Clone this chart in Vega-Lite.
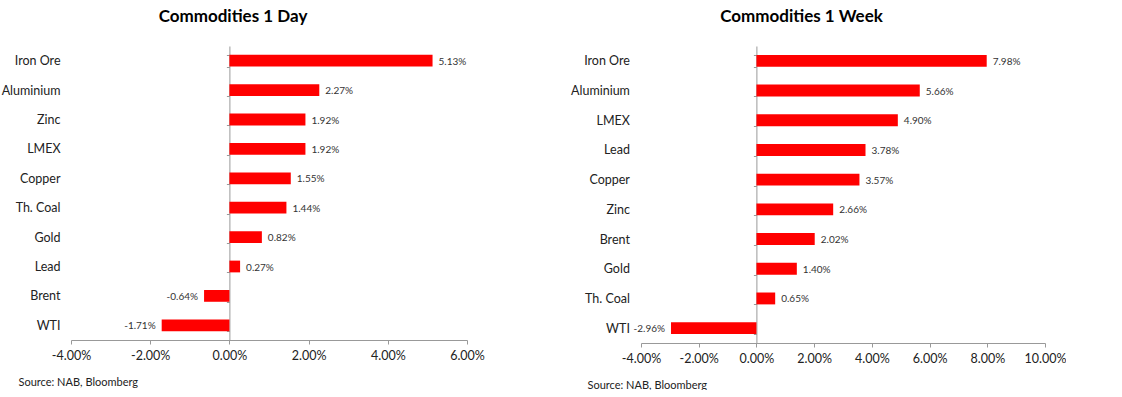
{
  "$schema": "https://vega.github.io/schema/vega-lite/v6.json",
  "background": "white",
  "padding": {"left": 1, "top": 8, "right": 0, "bottom": 0},
  "autosize": {"type": "pad"},
  "spacing": 174,
  "bounds": "flush",
  "config": {
    "view": {"stroke": null},
    "font": "Lato",
    "axis": {"grid": false},
    "locale": {"number": {"decimal": ".", "thousands": ",", "grouping": [3], "currency": ["$", ""], "minus": "-"}}
  },
  "datasets": {
    "day": [
      {"name": "Iron Ore", "v": 0.0513},
      {"name": "Aluminium", "v": 0.0227},
      {"name": "Zinc", "v": 0.0192},
      {"name": "LMEX", "v": 0.0192},
      {"name": "Copper", "v": 0.0155},
      {"name": "Th. Coal", "v": 0.0144},
      {"name": "Gold", "v": 0.0082},
      {"name": "Lead", "v": 0.0027},
      {"name": "Brent", "v": -0.0064},
      {"name": "WTI", "v": -0.0171}
    ],
    "week": [
      {"name": "Iron Ore", "v": 0.0798},
      {"name": "Aluminium", "v": 0.0566},
      {"name": "LMEX", "v": 0.049},
      {"name": "Lead", "v": 0.0378},
      {"name": "Copper", "v": 0.0357},
      {"name": "Zinc", "v": 0.0266},
      {"name": "Brent", "v": 0.0202},
      {"name": "Gold", "v": 0.014},
      {"name": "Th. Coal", "v": 0.0065},
      {"name": "WTI", "v": -0.0296}
    ]
  },
  "resolve": {"scale": {"x": "independent", "y": "independent"}},
  "hconcat": [
    {
      "width": 396,
      "height": 294,
      "data": {"name": "day"},
      "title": {"text": "Commodities 1 Day", "fontSize": 17, "fontWeight": "bold", "color": "#000", "anchor": "middle", "frame": "group", "dx": -36, "offset": 14},
      "encoding": {
        "y": {
          "field": "name", "type": "nominal",
          "sort": ["Iron Ore", "Aluminium", "Zinc", "LMEX", "Copper", "Th. Coal", "Gold", "Lead", "Brent", "WTI"],
          "scale": {"paddingInner": 0.6, "paddingOuter": 0.3},
          "axis": {"title": null, "offset": -158.4, "labelPadding": 166.4, "tickSize": 3, "tickBand": "extent", "domainColor": "#999", "tickColor": "#999", "labelFontSize": 12.5, "labelColor": "#222"}
        },
        "x": {
          "field": "v", "type": "quantitative",
          "scale": {"domain": [-0.04, 0.06], "nice": false},
          "axis": {"values": [-0.04, -0.02, 0, 0.02, 0.04, 0.06], "format": ".2%", "labelOverlap": false, "labelFlush": false, "title": "Source: NAB, Bloomberg", "titleX": -53, "titleY": 42, "titleAlign": "left", "titleBaseline": "middle", "titleFontSize": 11, "titleFontWeight": "normal", "titleColor": "#222", "labelFontSize": 12.5, "labelColor": "#222", "tickSize": 4, "labelPadding": 5, "domainColor": "#999", "tickColor": "#999"}
        }
      },
      "layer": [
        {"mark": {"type": "bar", "color": "#ff0000"}},
        {"transform": [{"filter": "datum.v >= 0"}], "mark": {"type": "text", "align": "left", "dx": 6, "dy": 1, "fontSize": 10, "color": "#333"}, "encoding": {"text": {"field": "v", "format": ".2%"}}},
        {"transform": [{"filter": "datum.v < 0"}], "mark": {"type": "text", "align": "right", "dx": -6, "dy": 1, "fontSize": 10, "color": "#333"}, "encoding": {"text": {"field": "v", "format": ".2%"}}}
      ]
    },
    {
      "width": 404,
      "height": 297,
      "data": {"name": "week"},
      "title": {"text": "Commodities 1 Week", "fontSize": 17, "fontWeight": "bold", "color": "#000", "anchor": "middle", "frame": "group", "dx": -41.5, "offset": 14},
      "encoding": {
        "y": {
          "field": "name", "type": "nominal",
          "sort": ["Iron Ore", "Aluminium", "LMEX", "Lead", "Copper", "Zinc", "Brent", "Gold", "Th. Coal", "WTI"],
          "scale": {"paddingInner": 0.6, "paddingOuter": 0.3},
          "axis": {"title": null, "offset": -115.4, "labelPadding": 124, "tickSize": 3, "tickBand": "extent", "domainColor": "#999", "tickColor": "#999", "labelFontSize": 12.5, "labelColor": "#222"}
        },
        "x": {
          "field": "v", "type": "quantitative",
          "scale": {"domain": [-0.04, 0.1], "nice": false},
          "axis": {"values": [-0.04, -0.02, 0, 0.02, 0.04, 0.06, 0.08, 0.1], "format": ".2%", "labelOverlap": false, "labelFlush": false, "title": "Source: NAB, Bloomberg", "titleX": -54, "titleY": 42, "titleAlign": "left", "titleBaseline": "middle", "titleFontSize": 11, "titleFontWeight": "normal", "titleColor": "#222", "labelFontSize": 12.5, "labelColor": "#222", "tickSize": 4, "labelPadding": 5, "domainColor": "#999", "tickColor": "#999"}
        }
      },
      "layer": [
        {"mark": {"type": "bar", "color": "#ff0000"}},
        {"transform": [{"filter": "datum.v >= 0"}], "mark": {"type": "text", "align": "left", "dx": 6, "dy": 1, "fontSize": 10, "color": "#333"}, "encoding": {"text": {"field": "v", "format": ".2%"}}},
        {"transform": [{"filter": "datum.v < 0"}], "mark": {"type": "text", "align": "right", "dx": -6, "dy": 1, "fontSize": 10, "color": "#333"}, "encoding": {"text": {"field": "v", "format": ".2%"}}}
      ]
    }
  ]
}
